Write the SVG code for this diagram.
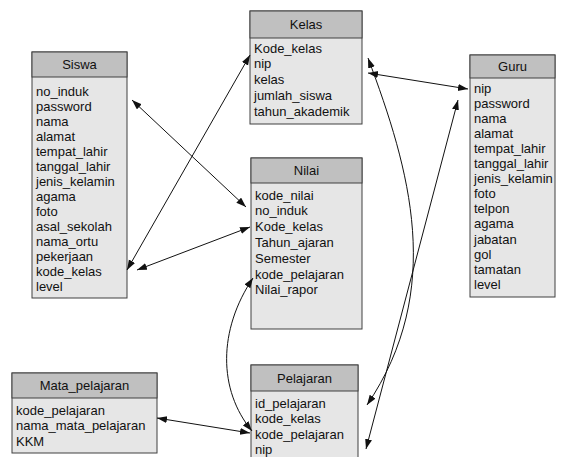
<svg xmlns="http://www.w3.org/2000/svg" width="565" height="457" viewBox="0 0 565 457">
<style>
.body{fill:#e6e6e6;stroke:#404040;stroke-width:1}
.head{fill:#c0c0c0;stroke:#404040;stroke-width:1}
text{font-family:"Liberation Sans",Arial,sans-serif;font-size:13px;fill:#111}
.t{text-anchor:middle}
.c{fill:none;stroke:#111;stroke-width:1}
</style>
<defs>
<marker id="ar" markerUnits="userSpaceOnUse" markerWidth="11" markerHeight="8" refX="10" refY="3.5" orient="auto-start-reverse">
<path d="M0,0 L10,3.5 L0,7 z" fill="#111"/>
</marker>
</defs>
<rect x="0" y="0" width="565" height="457" fill="#fff"/>

<g id="siswa">
<rect class="body" x="32" y="52" width="95" height="246"/>
<rect class="head" x="32" y="52" width="95" height="25"/>
<text class="t" x="79.5" y="68.5">Siswa</text>
<text x="36" y="95.5">no_induk<tspan x="36" dy="15">password</tspan><tspan x="36" dy="15">nama</tspan><tspan x="36" dy="15">alamat</tspan><tspan x="36" dy="15">tempat_lahir</tspan><tspan x="36" dy="15">tanggal_lahir</tspan><tspan x="36" dy="15">jenis_kelamin</tspan><tspan x="36" dy="15">agama</tspan><tspan x="36" dy="15">foto</tspan><tspan x="36" dy="15">asal_sekolah</tspan><tspan x="36" dy="15">nama_ortu</tspan><tspan x="36" dy="15">pekerjaan</tspan><tspan x="36" dy="15">kode_kelas</tspan><tspan x="36" dy="15">level</tspan></text>
</g>

<g id="kelas">
<rect class="body" x="250" y="11" width="112" height="113"/>
<rect class="head" x="250" y="11" width="112" height="27"/>
<text class="t" x="306" y="28.5">Kelas</text>
<text x="254" y="52.5">Kode_kelas<tspan x="254" dy="15.75">nip</tspan><tspan x="254" dy="15.75">kelas</tspan><tspan x="254" dy="15.75">jumlah_siswa</tspan><tspan x="254" dy="15.75">tahun_akademik</tspan></text>
</g>

<g id="guru">
<rect class="body" x="470" y="55" width="85" height="242"/>
<rect class="head" x="470" y="55" width="85" height="23"/>
<text class="t" x="512.5" y="70.5">Guru</text>
<text x="474" y="92.5">nip<tspan x="474" dy="15.1">password</tspan><tspan x="474" dy="15.1">nama</tspan><tspan x="474" dy="15.1">alamat</tspan><tspan x="474" dy="15.1">tempat_lahir</tspan><tspan x="474" dy="15.1">tanggal_lahir</tspan><tspan x="474" dy="15.1">jenis_kelamin</tspan><tspan x="474" dy="15.1">foto</tspan><tspan x="474" dy="15.1">telpon</tspan><tspan x="474" dy="15.1">agama</tspan><tspan x="474" dy="15.1">jabatan</tspan><tspan x="474" dy="15.1">gol</tspan><tspan x="474" dy="15.1">tamatan</tspan><tspan x="474" dy="15.1">level</tspan></text>
</g>

<g id="nilai">
<rect class="body" x="251" y="158" width="111" height="171"/>
<rect class="head" x="251" y="158" width="111" height="25"/>
<text class="t" x="306.5" y="174.5">Nilai</text>
<text x="255" y="199.5">kode_nilai<tspan x="255" dy="15.8">no_induk</tspan><tspan x="255" dy="15.8">Kode_kelas</tspan><tspan x="255" dy="15.8">Tahun_ajaran</tspan><tspan x="255" dy="15.8">Semester</tspan><tspan x="255" dy="15.8">kode_pelajaran</tspan><tspan x="255" dy="15.8">Nilai_rapor</tspan></text>
</g>

<g id="mata_pelajaran">
<rect class="body" x="12" y="373" width="145" height="80"/>
<rect class="head" x="12" y="373" width="145" height="25"/>
<text class="t" x="84.5" y="389.5">Mata_pelajaran</text>
<text x="16" y="414.5">kode_pelajaran<tspan x="16" dy="15.5">nama_mata_pelajaran</tspan><tspan x="16" dy="15.5">KKM</tspan></text>
</g>

<g id="pelajaran">
<rect class="body" x="251" y="365" width="107" height="100"/>
<rect class="head" x="251" y="365" width="107" height="26"/>
<text class="t" x="304.5" y="382.5">Pelajaran</text>
<text x="255" y="407.5">id_pelajaran<tspan x="255" dy="15.6">kode_kelas</tspan><tspan x="255" dy="15.6">kode_pelajaran</tspan><tspan x="255" dy="15.6">nip</tspan></text>
</g>

<g id="connectors">
<path class="c" d="M132,100 L246,207" marker-start="url(#ar)" marker-end="url(#ar)"/>
<path class="c" d="M127,270 L250,55" marker-start="url(#ar)" marker-end="url(#ar)"/>
<path class="c" d="M137,270 L250,227" marker-start="url(#ar)" marker-end="url(#ar)"/>
<path class="c" d="M368,73 L468,89" marker-start="url(#ar)" marker-end="url(#ar)"/>
<path class="c" d="M368,58 C410,170 445,290 367,405" marker-start="url(#ar)" marker-end="url(#ar)"/>
<path class="c" d="M458,100 L366,449" marker-start="url(#ar)" marker-end="url(#ar)"/>
<path class="c" d="M253,278 C218,330 218,390 252,431" marker-start="url(#ar)" marker-end="url(#ar)"/>
<path class="c" d="M157,418 L250,433" marker-start="url(#ar)" marker-end="url(#ar)"/>
</g>
</svg>
